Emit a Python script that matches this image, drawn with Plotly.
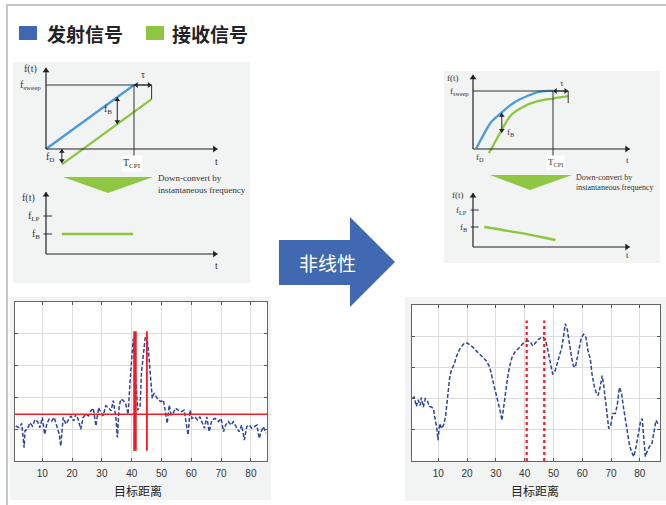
import plotly.graph_objects as go

W, H = 666, 505

# ---------------- range profiles (bottom panels) ----------------
range_ticks = [10, 20, 30, 40, 50, 60, 70, 80]
axis_title = "目标距离"

linear_x = [1.1, 2.2, 3.1, 3.9, 4.2, 5.0, 5.8, 6.7, 7.6, 8.4, 9.2, 10.0, 10.8, 11.5, 12.3,
            13.2, 14.0, 14.9, 15.7, 16.2, 17.0, 17.9, 18.8, 19.6, 20.5, 21.3, 22.0, 22.9,
            23.7, 24.6, 25.5, 26.3, 27.1, 28.0, 28.9, 29.6, 30.4, 31.3, 32.2, 33.1, 33.8,
            34.7, 35.2, 35.8, 36.4, 37.2, 38.0, 38.8, 39.4, 39.8, 40.5, 41.0, 41.5, 42.0,
            42.8, 43.3, 43.9, 44.5, 45.0, 45.6, 46.4, 46.9, 47.5, 48.1, 48.9, 49.8, 50.6,
            51.4, 51.9, 52.6, 53.2, 53.9, 54.7, 55.6, 56.7, 57.6, 58.4, 58.9, 59.6, 60.2,
            61.2, 62.1, 62.9, 63.7, 64.4, 65.2, 66.0, 66.9, 68.0, 69.1, 70.0, 70.8, 71.5,
            72.4, 73.3, 74.1, 75.0, 76.0, 76.9, 77.8, 78.6, 79.4, 80.3, 81.2, 82.0, 82.8,
            83.4, 84.2, 85.0]
linear_amp = [1.10, 1.05, 1.18, 0.42, 0.95, 1.00, 1.20, 1.10, 1.30, 1.24, 1.05, 1.37, 0.84,
              1.16, 1.32, 1.26, 1.37, 1.05, 0.84, 0.47, 1.37, 1.16, 1.32, 1.42, 1.26, 1.47,
              1.32, 1.00, 1.37, 1.47, 1.42, 1.58, 1.66, 1.10, 1.68, 1.53, 1.42, 1.74, 1.68,
              1.58, 1.90, 1.37, 0.74, 1.74, 1.95, 1.90, 1.79, 1.47, 2.42, 3.05, 3.84, 3.10,
              2.30, 1.60, 1.70, 2.80, 3.33, 3.86, 3.96, 3.49, 2.55, 1.97, 2.13, 2.02, 1.92,
              1.87, 1.92, 1.50, 1.18, 1.76, 1.45, 1.50, 1.66, 1.60, 1.55, 1.60, 1.08, 0.82,
              1.60, 1.34, 1.39, 1.29, 1.39, 1.18, 1.03, 1.39, 0.92, 1.29, 1.34, 1.24, 1.34,
              0.92, 1.13, 1.24, 1.13, 1.24, 1.08, 0.92, 1.13, 0.66, 1.08, 1.13, 1.03, 1.08,
              1.13, 0.71, 0.92, 1.08, 0.87]
linear_marks = [41.1, 45.1]
linear_mark_widths = [3.5, 1.8]
linear_mark_span = [0.32, 4.08]
linear_threshold = 1.47

nonlinear_x = [0.9, 1.6, 2.4, 3.0, 3.7, 4.1, 4.8, 5.5, 6.2, 6.9, 7.6, 8.3, 9.0, 9.5, 9.9,
               10.5, 11.1, 11.8, 12.5, 13.2, 13.9, 14.5, 15.5, 16.4, 17.4, 18.4, 19.2, 20.1,
               22.1, 23.2, 24.4, 25.5, 26.7, 27.9, 28.7, 29.4, 30.2, 31.0, 31.7, 32.1, 32.7,
               33.3, 34.0, 34.8, 35.6, 36.5, 37.5, 38.6, 39.8, 40.9, 41.9, 42.8, 43.7, 44.8,
               46.2, 47.2, 48.1, 48.9, 49.7, 50.4, 51.2, 52.0, 52.9, 53.6, 54.1, 54.8, 55.5,
               56.2, 56.9, 57.6, 58.3, 59.0, 59.7, 60.5, 61.3, 62.0, 62.8, 63.4, 64.1, 64.8,
               65.5, 66.2, 66.9, 67.4, 68.0, 68.6, 69.2, 69.9, 70.6, 71.5, 72.2, 72.9, 73.6,
               74.3, 75.0, 75.7, 76.4, 77.1, 77.9, 78.7, 79.4, 80.2, 80.8, 81.3, 81.9, 82.5,
               83.3, 84.2, 84.9, 85.6, 86.3]
nonlinear_amp = [2.00, 2.05, 1.75, 1.96, 1.78, 2.03, 1.73, 2.00, 1.94, 1.75, 1.73, 1.68, 1.30,
                 1.04, 0.67, 1.20, 1.04, 1.15, 1.41, 2.00, 2.63, 2.90, 3.10, 3.37, 3.58, 3.71,
                 3.78, 3.78, 3.64, 3.53, 3.43, 3.34, 3.21, 3.00, 2.63, 2.39, 2.10, 1.83, 1.52,
                 1.30, 1.73, 2.20, 2.63, 3.05, 3.32, 3.48, 3.58, 3.69, 3.80, 3.85, 3.83, 3.69,
                 3.80, 3.90, 3.98, 3.90, 3.53, 3.10, 2.79, 2.84, 3.10, 3.37, 3.64, 4.06, 4.40,
                 4.22, 3.74, 3.37, 3.05, 3.00, 3.32, 3.69, 3.96, 4.06, 3.96, 3.53, 3.27, 2.79,
                 2.42, 2.20, 2.10, 2.36, 2.74, 2.47, 1.94, 1.46, 1.04, 1.15, 1.52, 1.52, 1.83,
                 2.36, 2.20, 1.73, 1.30, 0.93, 0.51, 0.30, 0.14, 0.46, 0.88, 1.25, 1.36, 0.88,
                 0.14, 0.30, 0.46, 0.56, 0.88, 1.30, 1.20]
nonlinear_marks = [40.7, 46.8]
nonlinear_mark_span = [0.0, 4.5]

# ---------------- chirp diagrams (t normalised to T_CPI, f to f_sweep) ----------------
legend_labels = ["发射信号", "接收信号"]
tx_color = "#4a9bdc"
rx_color = "#8cc63f"

lin_tx_t = [0.0, 1.0]
lin_tx_f = [0.0, 1.0]
lin_rx_t = [0.18, 1.2]
lin_rx_f = [-0.24, 0.78]
lin_beat_t = [0.18, 0.99]
lin_beat_f = [1.0, 1.0]

nl_tx_t = [0.04, 0.13, 0.23, 0.36, 0.5, 0.67, 0.84, 1.0]
nl_tx_f = [0.01, 0.24, 0.47, 0.63, 0.79, 0.91, 0.99, 1.0]
nl_rx_t = [0.2, 0.3, 0.38, 0.48, 0.63, 0.8, 1.0, 1.19]
nl_rx_f = [-0.07, 0.18, 0.38, 0.59, 0.73, 0.82, 0.87, 0.91]
nl_beat_t = [0.14, 0.3, 0.5, 0.7, 0.85, 1.03]
nl_beat_f = [1.0, 0.9, 0.76, 0.62, 0.5, 0.35]


def dom_x(a, b):
    return [a / W, b / W]


def dom_y(top, bottom):
    return [1 - bottom / H, 1 - top / H]


def px(x):
    return x / W


def py(y):
    return 1 - y / H


fig = go.Figure()

# ---------- range-profile traces ----------
profile_line = dict(color="#2b449c", width=1.5, dash="4px,2px")
fig.add_trace(go.Scatter(x=linear_x, y=linear_amp, mode="lines", line=profile_line,
                         xaxis="x", yaxis="y"))
fig.add_trace(go.Scatter(x=[0, 90], y=[linear_threshold, linear_threshold], mode="lines",
                         line=dict(color="#ee1c24", width=1.6), xaxis="x", yaxis="y"))
for m, w in zip(linear_marks, linear_mark_widths):
    fig.add_trace(go.Scatter(x=[m, m], y=linear_mark_span, mode="lines",
                             line=dict(color="#ee1c24", width=w), xaxis="x", yaxis="y"))

fig.add_trace(go.Scatter(x=nonlinear_x, y=nonlinear_amp, mode="lines", line=profile_line,
                         xaxis="x2", yaxis="y2"))
for m in nonlinear_marks:
    fig.add_trace(go.Scatter(x=[m, m], y=nonlinear_mark_span, mode="lines",
                             line=dict(color="#ee1c24", width=2.2, dash="dot"),
                             xaxis="x2", yaxis="y2"))

# ---------- chirp diagram traces ----------
fig.add_trace(go.Scatter(x=lin_tx_t, y=lin_tx_f, mode="lines",
                         line=dict(color=tx_color, width=2.3), xaxis="x3", yaxis="y3"))
fig.add_trace(go.Scatter(x=lin_rx_t, y=lin_rx_f, mode="lines",
                         line=dict(color=rx_color, width=2.3), xaxis="x3", yaxis="y3"))
fig.add_trace(go.Scatter(x=lin_beat_t, y=lin_beat_f, mode="lines",
                         line=dict(color=rx_color, width=2.3), xaxis="x4", yaxis="y4"))
fig.add_trace(go.Scatter(x=nl_tx_t, y=nl_tx_f, mode="lines",
                         line=dict(color=tx_color, width=2.3, shape="spline"),
                         xaxis="x5", yaxis="y5"))
fig.add_trace(go.Scatter(x=nl_rx_t, y=nl_rx_f, mode="lines",
                         line=dict(color=rx_color, width=2.3, shape="spline"),
                         xaxis="x5", yaxis="y5"))
fig.add_trace(go.Scatter(x=nl_beat_t, y=nl_beat_f, mode="lines",
                         line=dict(color=rx_color, width=2.3, shape="spline"),
                         xaxis="x6", yaxis="y6"))

# ---------- axes ----------
grid = dict(showgrid=True, gridcolor="#dcdcdc", gridwidth=1, zeroline=False,
            showline=True, mirror="ticks", linecolor="#666", linewidth=1,
            ticks="inside", ticklen=3, tickcolor="#555")
tickfont = dict(family="Liberation Sans", size=10, color="#333")

layout_axes = dict(
    xaxis=dict(domain=dom_x(15, 267), range=[0.84, 85.4], tickvals=range_ticks,
               tickfont=tickfont, ticklabelstandoff=3, anchor="y", **grid),
    yaxis=dict(domain=dom_y(302, 461), range=[0, 5], dtick=1, showticklabels=False,
               anchor="x", **grid),
    xaxis2=dict(domain=dom_x(412, 660), range=[0.87, 87.0], tickvals=range_ticks,
                tickfont=tickfont, ticklabelstandoff=3, anchor="y2", **grid),
    yaxis2=dict(domain=dom_y(305, 461), range=[0, 5], dtick=1, showticklabels=False,
                anchor="x2", **grid),
)

# diagram frames: pixel origin, pixels per unit, pixel box
diagrams = {
    3: dict(origin=(46, 149), scale=(88, 64), box=(24, 62, 236, 176)),
    4: dict(origin=(46, 254), scale=(88, 20), box=(24, 186, 236, 272)),
    5: dict(origin=(473, 149), scale=(80, 58), box=(448, 70, 642, 172)),
    6: dict(origin=(473, 247), scale=(80, 20), box=(448, 186, 642, 262)),
}
for n, d in diagrams.items():
    (ox, oy), (sx, sy), (x0, y0, x1, y1) = d["origin"], d["scale"], d["box"]
    layout_axes[f"xaxis{n}"] = dict(domain=dom_x(x0, x1), range=[(x0 - ox) / sx, (x1 - ox) / sx],
                                    visible=False, anchor=f"y{n}", fixedrange=True)
    layout_axes[f"yaxis{n}"] = dict(domain=dom_y(y0, y1), range=[(oy - y1) / sy, (oy - y0) / sy],
                                    visible=False, anchor=f"x{n}", fixedrange=True)


def arrow(n, t0, f0, t1, f1, both=False, width=1.2, head=6):
    """Straight arrow in diagram n, drawn as a shaft plus triangle heads."""
    sx, sy = diagrams[n]["scale"]
    fig.add_trace(go.Scatter(x=[t0, t1], y=[f0, f1], mode="lines",
                             line=dict(color="#222", width=width),
                             xaxis=f"x{n}", yaxis=f"y{n}"))
    ends = [(t1, f1, t0, f0)] + ([(t0, f0, t1, f1)] if both else [])
    hx, hy, sym = [], [], []
    for te, fe, ts, fs in ends:
        if fe == fs:
            right = te > ts
            sym.append("triangle-right" if right else "triangle-left")
            hx.append(te - (head / 2) / sx * (1 if right else -1))
            hy.append(fe)
        else:
            up = fe > fs
            sym.append("triangle-up" if up else "triangle-down")
            hx.append(te)
            hy.append(fe - (head / 2) / sy * (1 if up else -1))
    fig.add_trace(go.Scatter(x=hx, y=hy, mode="markers",
                             marker=dict(symbol=sym, size=head, color="#222", line=dict(width=0)),
                             xaxis=f"x{n}", yaxis=f"y{n}"))


# ---------- shapes ----------
shapes = []


def rect(x0, y0, x1, y1, color):
    shapes.append(dict(type="rect", xref="paper", yref="paper", x0=px(x0), x1=px(x1),
                       y0=py(y1), y1=py(y0), fillcolor=color, line=dict(width=0), layer="below"))


def poly(points, color):
    path = "M " + " L ".join(f"{px(x)},{py(y)}" for x, y in points) + " Z"
    shapes.append(dict(type="path", xref="paper", yref="paper", path=path,
                       fillcolor=color, line=dict(width=0), layer="above"))


def dline(n, t0, f0, t1, f1, color="#333", width=1):
    shapes.append(dict(type="line", xref=f"x{n}", yref=f"y{n}", x0=t0, y0=f0, x1=t1, y1=f1,
                       line=dict(color=color, width=width)))


panel_gray = "#f2f3f3"
rect(13, 62, 250, 283, panel_gray)
rect(444, 71, 660, 263, panel_gray)
rect(10, 297, 271, 500, panel_gray)
rect(15, 302, 267, 461, "white")
rect(405, 297, 666, 501, panel_gray)
rect(412, 305, 660, 461, "white")

# outer frame
shapes.append(dict(type="line", xref="paper", yref="paper", x0=px(6), x1=1, y0=py(5), y1=py(5),
                   line=dict(color="#c3c7cb", width=2)))
shapes.append(dict(type="line", xref="paper", yref="paper", x0=px(7), x1=px(7), y0=py(5), y1=0,
                   line=dict(color="#c3c7cb", width=2)))

# legend swatches
rect(19, 26, 37, 40, "#4068b2")
rect(146, 26, 164, 40, "#8dc641")

# block arrow
poly([(279, 240), (350, 240), (350, 217), (395, 262), (350, 307), (350, 285), (279, 285)], "#4169b2")

# down-convert wedges
poly([(63, 177), (153, 177), (108, 193)], "#8fc742")
poly([(490, 175), (572, 175), (530, 190)], "#8fc742")

# diagram guide lines
dline(3, 0, 1, 1.2, 1)
dline(3, 1, 1, 1, -0.125)
dline(3, 1.2, 1, 1.2, 0.78)
dline(4, -0.03, 1.9, 0.07, 1.9)
dline(4, -0.03, 1.0, 0.07, 1.0)
dline(5, 0, 1, 1.19, 1)
dline(5, 1, 1, 1, -0.14)
dline(5, 1.19, 1, 1.19, 0.79)
dline(6, -0.03, 1.85, 0.07, 1.85)
dline(6, -0.03, 1.0, 0.07, 1.0)

# ---------- arrows ----------
arrow(3, 0, 0, 1.95, 0)
arrow(3, 0, 0, 0, 1.27)
arrow(3, 1, 1, 1.2, 1, both=True, width=1, head=5)
arrow(3, 0.81, 0.81, 0.81, 0.39, both=True, width=1, head=5)
arrow(3, 0.18, 0, 0.18, -0.22, both=True, width=1, head=5)
arrow(4, 0, 0, 1.95, 0)
arrow(4, 0, 0, 0, 3.1)
arrow(5, 0, 0, 1.96, 0)
arrow(5, 0, 0, 0, 1.28)
arrow(5, 1, 1, 1.19, 1, both=True, width=1, head=5)
arrow(5, 0.36, 0.62, 0.36, 0.28, both=True, width=1, head=5)
arrow(6, 0, 0, 1.96, 0)
arrow(6, 0, 0, 0, 2.7)

# ---------- annotations ----------
ann = []
serif = "Liberation Serif"


def label(n, t, f, text, xanchor="center", size=10, bg=None):
    a = dict(xref=f"x{n}", yref=f"y{n}", x=t, y=f, text=text, showarrow=False,
             xanchor=xanchor, yanchor="middle", font=dict(family=serif, size=size, color="#333"))
    if bg:
        a.update(bgcolor=bg, borderpad=1)
    ann.append(a)


def text_px(x, y, text, size, color="#222", family="Noto Sans CJK SC", xanchor="left",
            yanchor="middle", align="left"):
    ann.append(dict(xref="paper", yref="paper", x=px(x), y=py(y), text=text, showarrow=False,
                    xanchor=xanchor, yanchor=yanchor, align=align,
                    font=dict(family=family, size=size, color=color)))


label(3, -0.18, 1.25, "f(t)")
label(3, -0.03, 1.0, "f<sub>sweep</sub>", xanchor="right")
label(3, 1.1, 1.16, "τ")
label(3, 0.70, 0.61, "f<sub>B</sub>")
label(3, 0.05, -0.13, "f<sub>D</sub>")
label(3, 1.94, -0.2, "t")
label(3, 0.98, -0.23, "T<sub>CPI</sub>", bg="white")

label(4, -0.2, 2.8, "f(t)")
label(4, -0.05, 1.9, "f<sub>LP</sub>", xanchor="right")
label(4, -0.05, 1.0, "f<sub>B</sub>", xanchor="right")
label(4, 1.94, -0.55, "t")

label(5, -0.25, 1.22, "f(t)", size=9)
label(5, -0.03, 1.0, "f<sub>sweep</sub>", xanchor="right", size=9)
label(5, 1.11, 1.13, "τ", size=9)
label(5, 0.47, 0.29, "f<sub>B</sub>", size=9)
label(5, 0.09, -0.14, "f<sub>D</sub>", size=9)
label(5, 1.93, -0.19, "t", size=9)
label(5, 1.03, -0.24, "T<sub>CPI</sub>", size=9, bg="white")

label(6, -0.19, 2.6, "f(t)", size=9)
label(6, -0.05, 1.85, "f<sub>LP</sub>", xanchor="right", size=9)
label(6, -0.05, 1.0, "f<sub>B</sub>", xanchor="right", size=9)
label(6, 1.93, -0.4, "t", size=9)

text_px(156, 184, "Down-convert by<br>instantaneous frequency", 9, color="#333", family=serif)
text_px(574, 182, "Down-convert by<br>instantaneous frequency", 8, color="#333", family=serif)

# legend text
text_px(45, 33, f"<b>{legend_labels[0]}</b>", 19)
text_px(170, 33, f"<b>{legend_labels[1]}</b>", 19)

# arrow caption
text_px(327, 262, "非线性", 19, color="white", xanchor="center")

# axis titles
text_px(138, 490, axis_title, 12, xanchor="center")
text_px(535, 490, axis_title, 12, xanchor="center")

fig.update_layout(
    width=W, height=H, autosize=False,
    margin=dict(l=0, r=0, t=0, b=0),
    paper_bgcolor="white", plot_bgcolor="rgba(0,0,0,0)",
    showlegend=False,
    shapes=shapes, annotations=ann,
)
fig.update_layout(**layout_axes)

fig.write_html("out.html")
